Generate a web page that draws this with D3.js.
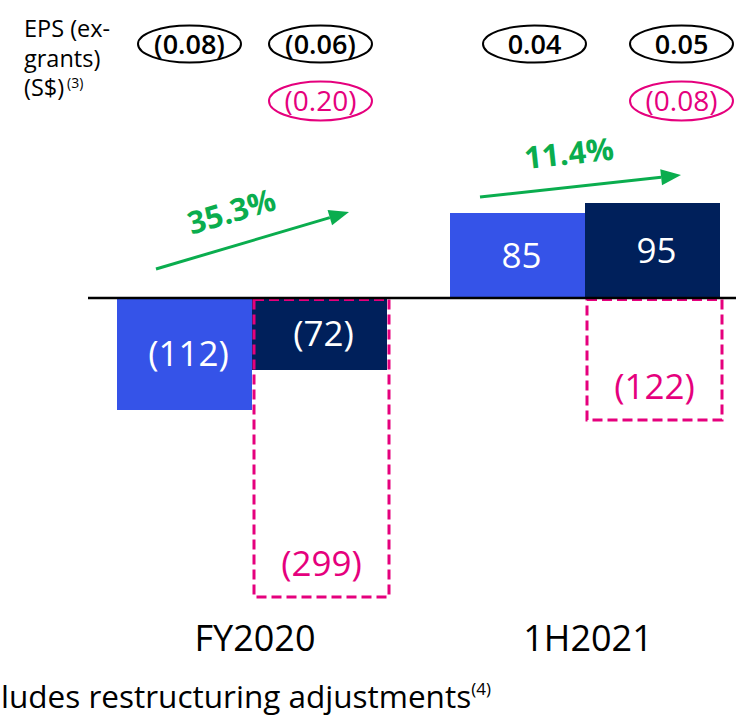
<!DOCTYPE html>
<html>
<head>
<meta charset="utf-8">
<script src="https://cdn.jsdelivr.net/npm/d3@7"></script>
<style>
  html, body { margin: 0; padding: 0; background: #ffffff; }
  svg { display: block; font-family: "Open Sans", "Noto Sans", sans-serif; }
</style>
</head>
<body>
<svg id="chart" width="736" height="720"></svg>
<script>
// Net profit (S$ m) by period
const categories = ["FY2020", "1H2021"];
const priorValues = [-112, 85];          // comparable period
const currentValues = [-72, 95];         // current period
const restructuringValues = [-299, -122]; // including restructuring adjustments

// Growth shown on the arrows
const growthLabels = ["35.3%", "11.4%"];

// EPS (ex-grants) in S$
const epsPrior = ["(0.08)", "0.04"];
const epsCurrent = ["(0.06)", "0.05"];
const epsRestructuring = ["(0.20)", "(0.08)"];

// EPS row title lines
const epsTitleLines = ["EPS (ex-", "grants)", "(S$)"];

const COLORS = {
  prior: "#3553e8",
  current: "#00205b",
  pink: "#e5007d",
  green: "#0aad4e",
  text: "#000000"
};

const svg = d3.select("#chart");

// category bands centred on each pair of bars
const x = d3.scaleBand().domain(categories).range([85.5, 751.5]).padding(0);
const barW = 135;
const sub = d3.scaleBand().domain(["prior", "current"]).range([-barW, barW]).padding(0);
const y = d3.scaleLinear().domain([-300, 100]).range([598, 198]);

const cx = c => x(c) + x.bandwidth() / 2;

// bars
const rows = categories.map((c, i) => ({
  c, prior: priorValues[i], current: currentValues[i], restr: restructuringValues[i]
}));

["prior", "current"].forEach(key => {
  svg.append("g").selectAll("rect")
    .data(rows)
    .join("rect")
    .attr("x", d => cx(d.c) + sub(key))
    .attr("width", sub.bandwidth())
    .attr("y", d => y(Math.max(0, d[key])))
    .attr("height", d => Math.abs(y(d[key]) - y(0)))
    .attr("fill", COLORS[key]);
});

// dashed boxes for values including restructuring adjustments
svg.append("g").selectAll("rect")
  .data(rows)
  .join("rect")
  .attr("x", d => cx(d.c) + sub("current") + 2)
  .attr("width", sub.bandwidth())
  .attr("y", y(0) + 1.5)
  .attr("height", d => y(d.restr) - y(0) - 1.5)
  .attr("fill", "none")
  .attr("stroke", COLORS.pink)
  .attr("stroke-width", 3)
  .attr("stroke-dasharray", "10,5");

// zero line
svg.append("line")
  .attr("x1", 88).attr("x2", 736)
  .attr("y1", y(0)).attr("y2", y(0))
  .attr("stroke", "#000").attr("stroke-width", 2.5);

const fmt = v => v < 0 ? "(" + Math.abs(v) + ")" : String(v);

// value labels inside bars
["prior", "current"].forEach(key => {
  svg.append("g").selectAll("text")
    .data(rows)
    .join("text")
    .attr("x", d => cx(d.c) + sub(key) + sub.bandwidth() / 2 + 4)
    .attr("y", d => (y(0) + y(d[key])) / 2 + 12)
    .attr("text-anchor", "middle")
    .attr("font-size", 35)
    .attr("fill", "#ffffff")
    .text(d => fmt(d[key]));
});

// labels for restructuring boxes
svg.append("g").selectAll("text")
  .data(rows)
  .join("text")
  .attr("x", d => cx(d.c) + sub("current") + sub.bandwidth() / 2 + 2)
  .attr("y", d => y(d.restr) - 21)
  .attr("text-anchor", "middle")
  .attr("font-size", 35)
  .attr("fill", COLORS.pink)
  .text(d => fmt(d.restr));

// category axis labels
svg.append("g").selectAll("text")
  .data(categories)
  .join("text")
  .attr("x", d => cx(d) + 3)
  .attr("y", 651)
  .attr("text-anchor", "middle")
  .attr("font-size", 36)
  .attr("fill", COLORS.text)
  .text(d => d);

// growth arrows
const arrowLayout = [
  { sx: 39, sy: -29, ex: -38, ey: -86 },
  { sx: 30, sy: -84 - 17, ex: -39, ey: -93 - 30 }
];
const arrows = rows.map((d, i) => {
  const L = arrowLayout[i];
  const x1 = cx(d.c) + sub("prior") + L.sx;
  const x2 = cx(d.c) + sub("current") + sub.bandwidth() + L.ex;
  const base = y(0);
  return { x1, y1: base + L.sy, x2, y2: base + L.ey, label: growthLabels[i] };
});

const arrowG = svg.append("g");
arrows.forEach((a, i) => {
  const ang = Math.atan2(a.y2 - a.y1, a.x2 - a.x1);
  const headLen = 20, headW = 8;
  const bx = a.x2 - headLen * Math.cos(ang), by = a.y2 - headLen * Math.sin(ang);
  arrowG.append("line")
    .attr("x1", a.x1).attr("y1", a.y1)
    .attr("x2", bx).attr("y2", by)
    .attr("stroke", COLORS.green).attr("stroke-width", 3);
  const px = -Math.sin(ang), py = Math.cos(ang);
  arrowG.append("path")
    .attr("d", d3.line()([
      [a.x2, a.y2],
      [bx + px * headW, by + py * headW],
      [bx - px * headW, by - py * headW]
    ]) + "Z")
    .attr("fill", COLORS.green);
  const mx = (a.x1 + a.x2) / 2, my = (a.y1 + a.y2) / 2;
  const along = i === 0 ? -12 : -8, perp = -31;
  const lx = mx + along * Math.cos(ang) + perp * px;
  const ly = my + along * Math.sin(ang) + perp * py;
  arrowG.append("text")
    .attr("transform", `translate(${lx},${ly}) rotate(${ang * 180 / Math.PI})`)
    .attr("text-anchor", "middle")
    .attr("dominant-baseline", "middle")
    .attr("font-size", 31)
    .attr("font-weight", 700)
    .attr("fill", COLORS.green)
    .text(a.label);
});

// EPS row title, one text per line
const titleG = svg.append("g");
titleG.selectAll("text")
  .data(epsTitleLines)
  .join("text")
  .attr("x", 24)
  .attr("y", (d, i) => 37 + i * 29.5)
  .attr("font-size", 23.5)
  .attr("fill", COLORS.text)
  .text(d => d);
titleG.append("text")
  .attr("x", 67).attr("y", 88)
  .attr("font-size", 14)
  .attr("fill", COLORS.text)
  .text("(3)");

// EPS ovals
const ovalShift = [[5, 1], [17, 29]];
const ovals = [];
rows.forEach((d, i) => {
  const px0 = cx(d.c) + sub("prior") + sub.bandwidth() / 2 + ovalShift[i][0];
  const px1 = cx(d.c) + sub("current") + sub.bandwidth() / 2 + ovalShift[i][1];
  ovals.push({ x: px0, y: 44, text: epsPrior[i], color: "#000", weight: 600, size: 27 });
  ovals.push({ x: px1, y: 44, text: epsCurrent[i], color: "#000", weight: 600, size: 27 });
  ovals.push({ x: px1, y: 101, text: epsRestructuring[i], color: COLORS.pink, weight: 400, size: 28 });
});

const ovalG = svg.append("g").selectAll("g")
  .data(ovals)
  .join("g")
  .attr("transform", d => `translate(${d.x},${d.y})`);
ovalG.append("ellipse")
  .attr("rx", 51.5).attr("ry", d => d.y > 60 ? 19.5 : 18.5)
  .attr("fill", "none")
  .attr("stroke", d => d.color)
  .attr("stroke-width", 2);
ovalG.append("text")
  .attr("text-anchor", "middle")
  .attr("dy", d => d.size * 0.36)
  .attr("font-size", d => d.size)
  .attr("font-weight", d => d.weight)
  .attr("fill", d => d.color)
  .text(d => d.text);

// footnote
const foot = svg.append("text")
  .attr("x", 1).attr("y", 708)
  .attr("font-size", 31.5)
  .attr("fill", COLORS.text);
foot.append("tspan").text("ludes restructuring adjustments");
foot.append("tspan").attr("dy", -13).attr("font-size", 17).text("(4)");
</script>
</body>
</html>
